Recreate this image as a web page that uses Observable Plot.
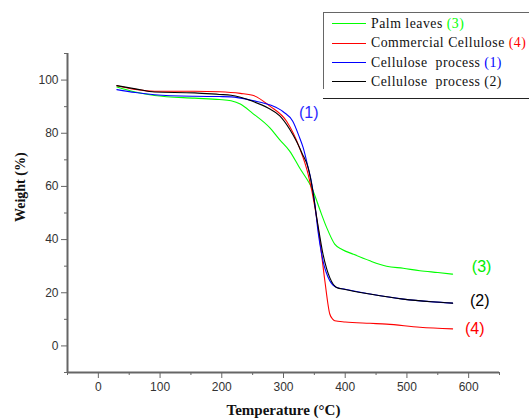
<!DOCTYPE html>
<html>
<head>
<meta charset="utf-8">
<script src="https://cdn.jsdelivr.net/npm/d3@7"></script>
<script src="https://cdn.jsdelivr.net/npm/@observablehq/plot@0.6"></script>
<style>
  html, body { margin: 0; padding: 0; background: #fff; overflow: hidden; }
  #wrap { position: relative; width: 529px; height: 420px; }
  #legend { position: absolute; left: 323px; top: 12px; width: 205px; height: 76px;
            border-left: 1px solid #666; border-top: 1px solid #666; }
  #legend .sw { position: absolute; left: 8px; width: 34px; height: 0; }
  #legend .tx { position: absolute; left: 47px; font-family: "Liberation Serif", serif;
                font-size: 13.8px; line-height: 16px; letter-spacing: 0.5px; white-space: pre; color: #111; }
  #rule { position: absolute; left: 323px; top: 98px; width: 206px; height: 0; border-top: 1px solid #222; }
</style>
</head>
<body>
<div id="wrap"></div>
<script>
// ---- data ----
const seriesNames = ["Palm leaves", "Commercial Cellulose", "Cellulose  process", "Cellulose  process"];
const seriesTags = ["(3)", "(4)", "(1)", "(2)"];
const seriesColors = ["#00ff00", "#ff0000", "#0000ff", "#000000"];

const tempPalm = [30, 60, 91, 156, 196, 215, 230, 250, 278, 294, 310, 326, 348, 359, 370, 383, 395, 413, 440, 467, 494, 521, 550, 574];
const weightPalm = [97.4, 95.5, 94.2, 93.2, 92.7, 92.2, 91.0, 87.5, 82.0, 77.5, 73.3, 67.0, 58.3, 51.2, 44.5, 38.3, 36.3, 34.5, 32.0, 30.0, 29.2, 28.3, 27.6, 27.0];

const tempCommercial = [30, 60, 91, 156, 196, 230, 250, 278, 305, 326, 340, 351, 359, 367, 375, 380, 383, 400, 440, 467, 521, 574];
const weightCommercial = [97.9, 96.5, 95.8, 95.8, 95.6, 95.0, 94.3, 90.2, 84.5, 74.5, 64.5, 52.0, 39.5, 24.5, 12.0, 10.0, 9.5, 9.0, 8.5, 8.2, 7.0, 6.4];

const tempProc1 = [30, 60, 91, 156, 196, 215, 250, 280, 300, 315, 325, 332, 340, 345, 351, 356, 364, 375, 386, 400, 440, 494, 574];
const weightProc1 = [96.4, 95.3, 94.5, 93.9, 93.8, 93.7, 92.3, 90.5, 88.0, 84.5, 79.0, 74.5, 67.0, 62.0, 53.0, 43.0, 32.0, 24.5, 22.0, 21.3, 19.5, 17.6, 16.1];

const tempProc2 = [30, 60, 91, 156, 196, 215, 250, 275, 294, 310, 321, 330, 340, 347, 353, 359, 364, 370, 375, 386, 400, 440, 494, 540, 574];
const weightProc2 = [97.9, 96.7, 95.5, 95.2, 94.6, 94.3, 92.0, 89.5, 86.5, 81.5, 77.0, 72.5, 67.0, 59.0, 49.5, 41.0, 34.5, 29.0, 25.7, 22.0, 21.2, 19.5, 17.6, 16.6, 16.1];

const labelText = ["(1)", "(2)", "(3)", "(4)"];
const labelTemp = [341, 618, 621, 610];
const labelWeight = [87.5, 17.0, 29.7, 6.5];
const labelColors = ["#2a2aff", "#000000", "#00ee00", "#ff0000"];

const xDomain = [-50, 650];
const yDomain = [-10, 110];
const xMajor = [0, 100, 200, 300, 400, 500, 600];
const xMinor = [-50, 50, 150, 250, 350, 450, 550, 650];
const yMajor = [0, 20, 40, 60, 80, 100];
const yMinor = [-10, 10, 30, 50, 70, 90, 110];

// ---- build ----
const temps = [tempPalm, tempCommercial, tempProc1, tempProc2];
const weights = [weightPalm, weightCommercial, weightProc1, weightProc2];
const rows = temps.flatMap((ts, i) => ts.map((t, j) => ({s: i, t, w: weights[i][j]})));
const labels = labelText.map((text, i) => ({text, t: labelTemp[i], w: labelWeight[i], c: labelColors[i]}));

const axisGray = "#666";
const chart = Plot.plot({
  width: 529,
  height: 420,
  marginLeft: 67,
  marginRight: 30,
  marginTop: 53,
  marginBottom: 48,
  style: {fontFamily: "'Liberation Sans', Arial, sans-serif", fontSize: "12px", color: "#333", background: "transparent"},
  x: {domain: xDomain, axis: null},
  y: {domain: yDomain, axis: null},
  marks: [
    Plot.axisX({ticks: xMinor, tickSize: 3, tickFormat: () => "", label: null, stroke: axisGray}),
    Plot.axisX({ticks: xMajor, tickSize: 6, tickPadding: 4, label: null, stroke: axisGray, fill: "#333", fontSize: 12}),
    Plot.axisY({ticks: yMinor, tickSize: 3, tickFormat: () => "", label: null, stroke: axisGray}),
    Plot.axisY({ticks: yMajor, tickSize: 6, tickPadding: 3, label: null, stroke: axisGray, fill: "#333", fontSize: 12}),
    Plot.ruleX(xDomain.slice(0, 1), {stroke: axisGray, strokeWidth: 2}),
    Plot.ruleY(yDomain.slice(0, 1), {stroke: axisGray, strokeWidth: 2}),
    ...[0, 1, 2, 3].map(i => Plot.line(rows.filter(d => d.s === i), {
      x: "t", y: "w", stroke: seriesColors[i], strokeWidth: 1.1, curve: "monotone-x"
    })),
    Plot.text(labels, {x: "t", y: "w", text: "text", fill: "c", fontSize: 16}),
    Plot.text(["Temperature (°C)"], {frameAnchor: "bottom", dy: 42, fontFamily: "'Liberation Serif', serif",
      fontWeight: "bold", fontSize: 15, fill: "#111", letterSpacing: "0.9px"}),
    Plot.text(["Weight (%)"], {frameAnchor: "left", dx: -47, dy: 9, rotate: -90, fontFamily: "'Liberation Serif', serif",
      fontWeight: "bold", fontSize: 14, fill: "#111", letterSpacing: "0.6px"})
  ]
});

const wrap = document.getElementById("wrap");
wrap.appendChild(chart);

// ---- legend ----
const legend = document.createElement("div");
legend.id = "legend";
const rowCenters = [10.7, 30.3, 49.7, 68.7];
seriesNames.forEach((name, i) => {
  const sw = document.createElement("div");
  sw.className = "sw";
  sw.style.top = (rowCenters[i] - 0.5) + "px";
  sw.style.borderTop = "1px solid " + seriesColors[i];
  legend.appendChild(sw);
  const tx = document.createElement("div");
  tx.className = "tx";
  tx.style.top = (rowCenters[i] - 8) + "px";
  tx.appendChild(document.createTextNode(name + " "));
  const tag = document.createElement("span");
  tag.textContent = seriesTags[i];
  tag.style.color = i === 3 ? "#111" : seriesColors[i];
  tx.appendChild(tag);
  legend.appendChild(tx);
});
wrap.appendChild(legend);
const rule = document.createElement("div");
rule.id = "rule";
wrap.appendChild(rule);
</script>
</body>
</html>
